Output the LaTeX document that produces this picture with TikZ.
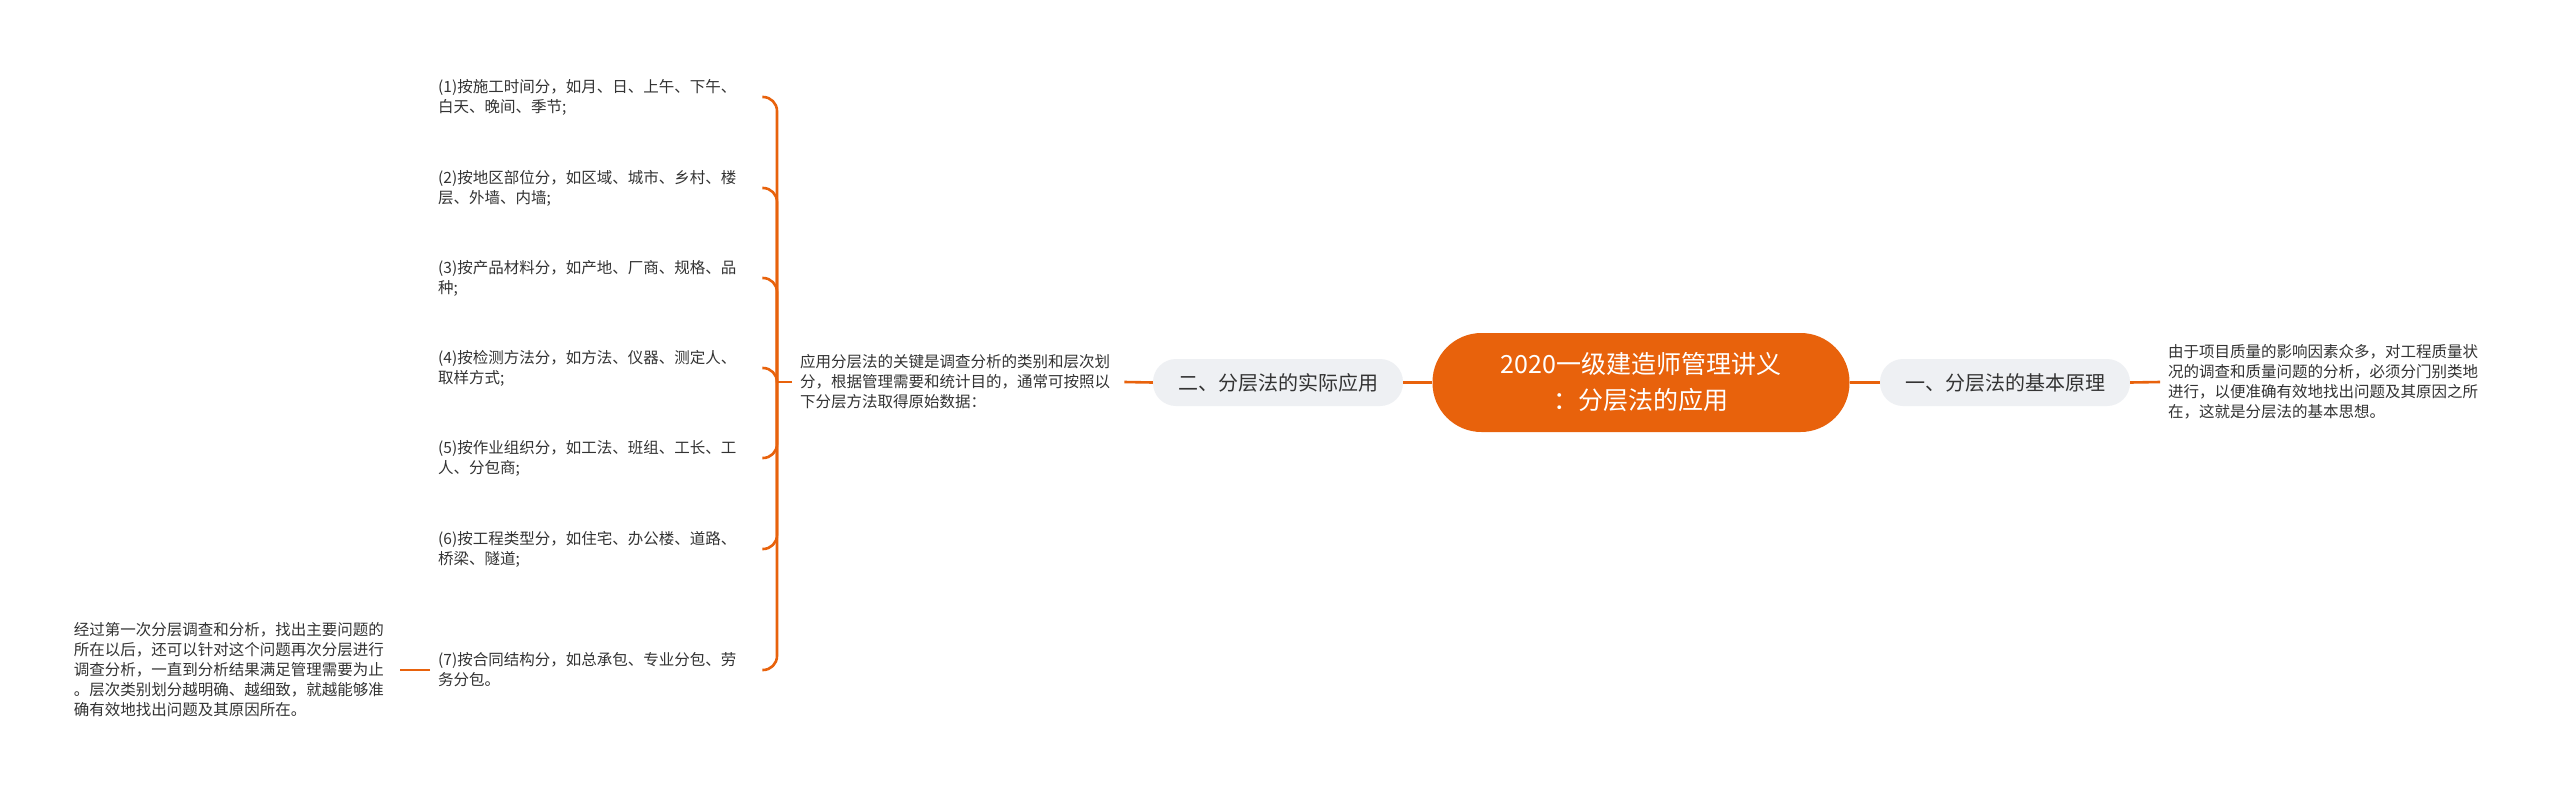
\documentclass[tikz,border=0pt]{standalone}
\usepackage{fontspec}
\setmainfont{Noto Sans CJK SC}
\definecolor{org}{HTML}{E8620C}
\definecolor{subfill}{HTML}{EEF0F3}
\definecolor{txt}{HTML}{333333}
\begin{document}
\begin{tikzpicture}[x=1pt,y=-1pt,
 conn/.style={draw=org,line width=2.6pt},
 leaf/.style={text=txt,align=left,inner xsep=8pt,inner ysep=4pt,text width=316pt,font=\fontsize{15.5pt}{20pt}\selectfont},
 sub/.style={rectangle,rounded corners=23pt,fill=subfill,minimum width=250pt,minimum height=47pt,text=txt,inner sep=0pt,font=\fontsize{20pt}{24pt}\selectfont},
 root/.style={rectangle,rounded corners=49pt,fill=org,minimum width=417pt,minimum height=99pt,text=white,align=center,inner sep=0pt,font=\fontsize{25pt}{36pt}\selectfont}]
\useasboundingbox[fill=white] (0,0) rectangle (2560,796);

\node[root] (root) at (1641,382.5) {2020一级建造师管理讲义\\：分层法的应用};
\node[sub] (s1) at (2005,382.5) {一、分层法的基本原理};
\node[sub] (s2) at (1278,382.5) {二、分层法的实际应用};

\node[leaf,anchor=west] (r1) at (2160,382) {由于项目质量的影响因素众多，对工程质量状\\况的调查和质量问题的分析，必须分门别类地\\进行，以便准确有效地找出问题及其原因之所\\在，这就是分层法的基本思想。};
\node[leaf,anchor=west] (m1) at (792,382) {应用分层法的关键是调查分析的类别和层次划\\分，根据管理需要和统计目的，通常可按照以\\下分层方法取得原始数据：};

\node[leaf,anchor=west] (i1) at (430,97) {(1)按施工时间分，如月、日、上午、下午、\\白天、晚间、季节;};
\node[leaf,anchor=west] (i2) at (430,188) {(2)按地区部位分，如区域、城市、乡村、楼\\层、外墙、内墙;};
\node[leaf,anchor=west] (i3) at (430,278) {(3)按产品材料分，如产地、厂商、规格、品\\种;};
\node[leaf,anchor=west] (i4) at (430,368) {(4)按检测方法分，如方法、仪器、测定人、\\取样方式;};
\node[leaf,anchor=west] (i5) at (430,458) {(5)按作业组织分，如工法、班组、工长、工\\人、分包商;};
\node[leaf,anchor=west] (i6) at (430,549) {(6)按工程类型分，如住宅、办公楼、道路、\\桥梁、隧道;};
\node[leaf,anchor=west] (i7) at (430,670) {(7)按合同结构分，如总承包、专业分包、劳\\务分包。};

\node[leaf,anchor=east,text width=318pt] (l1) at (400,670) {经过第一次分层调查和分析，找出主要问题的\\所在以后，还可以针对这个问题再次分层进行\\调查分析，一直到分析结果满足管理需要为止\\。层次类别划分越明确、越细致，就越能够准\\确有效地找出问题及其原因所在。};

\coordinate (J) at (777,382);

\draw[conn] (root.east) -- (s1.west);
\draw[conn] (s1.east) -- (r1.west);
\draw[conn] (root.west) -- (s2.west -| s2.east);
\draw[conn] (s2.west) -- (m1.east);
\draw[conn] (m1.west) -- (J);
\foreach \n in {i1,i2,i3,i4,i5,i6,i7}{
  \draw[conn,rounded corners=14pt] (J) |- (\n.east);
}
\draw[conn] (i7.west) -- (l1.east);
\end{tikzpicture}
\end{document}
